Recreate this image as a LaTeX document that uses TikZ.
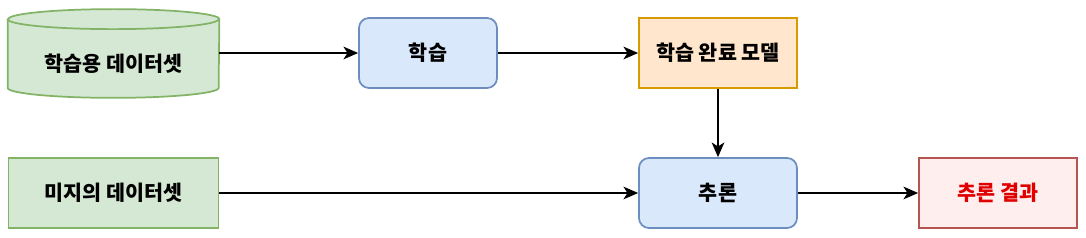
\documentclass[tikz,border=0pt]{standalone}
\usepackage{fontspec}
\newfontfamily\kofont{Noto Sans CJK KR}
\usetikzlibrary{arrows.meta}
\definecolor{dgreen}{HTML}{D5E8D4}
\definecolor{dgreenline}{HTML}{82B366}
\definecolor{dblue}{HTML}{DAE8FC}
\definecolor{dblueline}{HTML}{6C8EBF}
\definecolor{dorange}{HTML}{FFE6CC}
\definecolor{dorangeline}{HTML}{D79B00}
\definecolor{dred}{HTML}{FFEEEE}
\definecolor{dredline}{HTML}{B85450}
\definecolor{dredtext}{RGB}{225,0,0}
\tikzset{
  bx/.style={minimum width=#1, minimum height=52.5pt, align=center,
             font=\kofont\fontsize{15.5pt}{18pt}\selectfont\bfseries, line width=1.3pt},
  dataL/.style={bx=157.5pt, draw=dgreenline, fill=dgreen},
  procL/.style={bx=#1, draw=dblueline, fill=dblue, rounded corners=7.5pt},
  modelL/.style={bx=118.5pt, draw=dorangeline, fill=dorange},
  resL/.style={bx=118.5pt, draw=dredline, fill=dred, text=dredtext},
  cyl/.style={draw=dgreenline, fill=dgreen, line width=1.3pt},
  capr/.style={x radius=79.125pt, y radius=7.5pt},
  arr/.style={-{Stealth[length=11pt, width=9.5pt, inset=3pt]}, line width=1.2pt},
}
\begin{document}
\begin{tikzpicture}[x=0.75pt, y=-0.75pt]
  \useasboundingbox (0,0) rectangle (1086,238);

  % cylinder body (text node below the top cap)
  \node[bx=157.5pt, minimum height=50.25pt] (train) at (113.5,63.5) {};
  \path[cyl] ([yshift=7.5pt]train.north west) -- ([yshift=7.5pt]train.south west)
    arc[start angle=180, end angle=360, capr] -- ([yshift=7.5pt]train.north east)
    arc[start angle=0, end angle=180, capr] -- cycle;
  \draw[cyl, fill=none] ([yshift=7.5pt]train.north west) arc[start angle=180, end angle=360, capr];
  \node[bx=157.5pt, minimum height=50.25pt] at (train) {학습용 데이터셋};

  \node[procL=103.5pt] (learn) at (428,53)   {학습};
  \node[modelL]        (model) at (718,53)   {학습 완료 모델};
  \node[dataL]         (unk)   at (113.5,193) {미지의 데이터셋};
  \node[procL=118.5pt] (infer) at (718,193)  {추론};
  \node[resL]          (res)   at (998,193)  {추론 결과};

  \draw[arr] (train.east |- learn) -- (learn);
  \draw[arr] (learn) -- (model);
  \draw[arr] (model) -- (infer);
  \draw[arr] (unk)   -- (infer);
  \draw[arr] (infer) -- (res);
\end{tikzpicture}
\end{document}
